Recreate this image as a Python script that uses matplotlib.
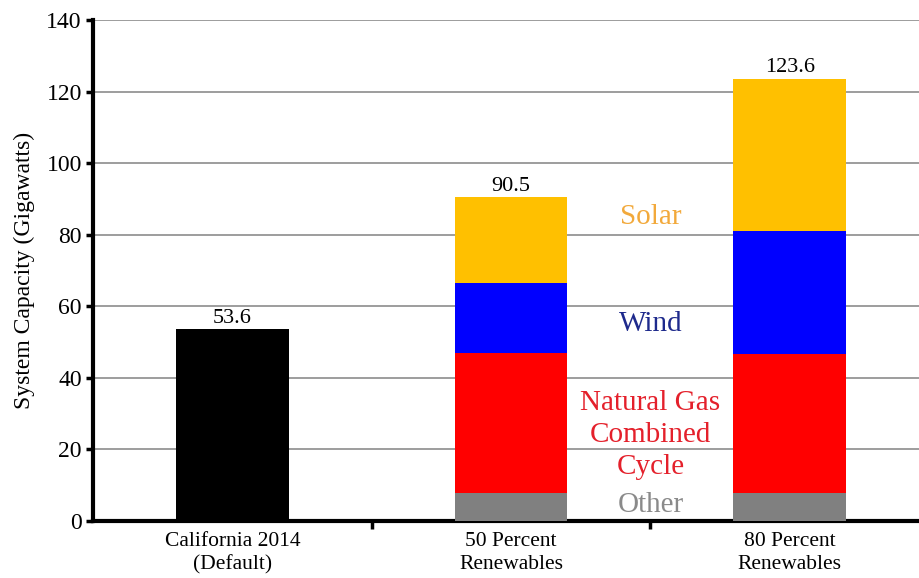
import matplotlib
matplotlib.use("Agg")
import matplotlib.pyplot as plt
import numpy as np

plt.rcParams['font.family'] = ['Liberation Serif', 'DejaVu Serif']

categories = ["California 2014\n(Default)", "50 Percent\nRenewables", "80 Percent\nRenewables"]
default_total = [53.6]
other = [7.7, 7.7]
ngcc = [39.3, 39.0]
wind = [19.5, 34.4]
solar = [24.0, 42.5]
totals = [53.6, 90.5, 123.6]

seg_names = ["Solar", "Wind", "Natural Gas\nCombined\nCycle", "Other"]
seg_label_y = [85, 55, 24, 4.5]
seg_text_colors = ["#F2A93B", "#1E2A8C", "#E4202B", "#8A8A8A"]

fig = plt.figure(figsize=(9.2, 5.78), dpi=100)
ax = fig.add_axes([93/920, 57/578, 836/920, 501/578])

x = np.arange(len(categories))
w = 0.405
ax.bar(x[0], default_total[0], width=w, color="black", zorder=3)
xs = x[1:]
b = np.zeros(2)
for vals, col in [(other, "#808080"), (ngcc, "#FF0000"), (wind, "#0000FF"), (solar, "#FFC000")]:
    ax.bar(xs, vals, width=w, bottom=b, color=col, zorder=3)
    b = b + np.array(vals)

for xi, t in zip(x, totals):
    ax.text(xi, t + 0.4, f"{t}", ha="center", va="bottom", fontsize=16, zorder=4)

for name, yv, c in zip(seg_names, seg_label_y, seg_text_colors):
    ax.text(1.5, yv, name, ha="center", va="center", fontsize=21, color=c,
            linespacing=1.3, zorder=4)

ax.set_ylim(0, 140)
ax.set_xlim(-0.5, 2.5)
ax.set_yticks(np.arange(0, 141, 20))
ax.yaxis.grid(True, color="#8C8C8C", linewidth=1.2, zorder=0)
ax.set_axisbelow(True)
ax.tick_params(axis='y', labelsize=17, width=2.5, length=5, direction='out', pad=3)
ax.set_xticks([0.5, 1.5])
ax.set_xticklabels([])
ax.tick_params(axis='x', width=2.5, length=6, direction='out')
for xi, lab in zip(x, categories):
    ax.text(xi, -3.2, lab, ha="center", va="top", fontsize=15.5, linespacing=1.25)
ax.set_ylabel("System Capacity (Gigawatts)", fontsize=17, labelpad=8)
for s in ["top", "right"]:
    ax.spines[s].set_visible(False)
for s in ["left", "bottom"]:
    ax.spines[s].set_linewidth(3)

fig.savefig("out.png", dpi=100)
